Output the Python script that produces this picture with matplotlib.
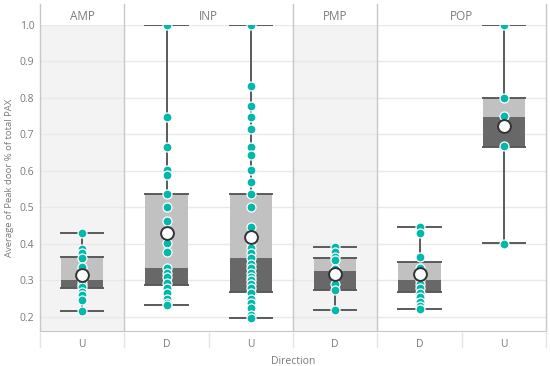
import matplotlib.pyplot as plt
import matplotlib.transforms as mtransforms
import numpy as np

plt.rcParams['font.family'] = ['Open Sans', 'DejaVu Sans']

# one slot per (group, direction)
groups = ['AMP', 'INP', 'PMP', 'POP']
group_slots = [[0], [1, 2], [3], [4, 5]]
directions = ['U', 'D', 'U', 'D', 'D', 'U']

# box statistics
q1 = [0.278, 0.287, 0.269, 0.273, 0.269, 0.666]
median = [0.300, 0.333, 0.360, 0.325, 0.300, 0.749]
q3 = [0.363, 0.536, 0.536, 0.360, 0.351, 0.801]
whisk_lo = [0.215, 0.232, 0.196, 0.218, 0.220, 0.401]
whisk_hi = [0.430, 1.0, 1.0, 0.392, 0.445, 1.0]
means = [0.314, 0.430, 0.419, 0.317, 0.317, 0.723]

# individual points
amp_u = [0.429, 0.385, 0.374, 0.36, 0.337, 0.319, 0.30, 0.29, 0.282, 0.268, 0.26, 0.246, 0.215]
inp_d = [1.0, 0.749, 0.666, 0.602, 0.589, 0.536, 0.502, 0.462, 0.401, 0.377, 0.335, 0.319,
         0.31, 0.292, 0.278, 0.264, 0.25, 0.237, 0.232]
inp_u = [1.0, 0.833, 0.778, 0.749, 0.714, 0.666, 0.643, 0.602, 0.57, 0.536, 0.502, 0.447,
         0.401, 0.388, 0.374, 0.36, 0.346, 0.333, 0.319, 0.31, 0.30, 0.29, 0.28, 0.264,
         0.25, 0.237, 0.223, 0.205, 0.196]
pmp_d = [0.392, 0.378, 0.365, 0.355, 0.33, 0.29, 0.273, 0.218]
pop_d = [0.445, 0.43, 0.365, 0.335, 0.32, 0.31, 0.30, 0.29, 0.28, 0.265, 0.255, 0.24, 0.23, 0.22]
pop_u = [1.0, 0.80, 0.75, 0.667, 0.40]
points = [amp_u, inp_d, inp_u, pmp_d, pop_d, pop_u]

teal = '#01B8AA'
light = '#C1C1C1'
dark = '#686868'
line_col = '#5A5A5A'
sep_col = '#C8C8C8'
txt_col = '#7A7A7A'

fig = plt.figure(figsize=(5.5, 3.66), dpi=100)
ax = fig.add_axes([40 / 550, 1 - 331 / 366, 506 / 550, 306 / 366])
ax.set_xlim(-0.5, 5.5)
ax.set_ylim(0.161, 1.0)

# shaded panels for AMP and PMP
for g, slots in enumerate(group_slots):
    if g % 2 == 0:
        ax.axvspan(slots[0] - 0.5, slots[-1] + 0.5, color='#F3F3F3', zorder=0)

for v in np.arange(0.2, 1.01, 0.1):
    ax.axhline(v, color='#E9E9E9', lw=1, zorder=0.5)

trans = mtransforms.blended_transform_factory(ax.transData, ax.transAxes)
# group separators extending into header
for b in [-0.5, 0.5, 2.5, 3.5, 5.5]:
    ax.plot([b, b], [0, 1.069], transform=trans, color=sep_col, lw=1, clip_on=False, zorder=1)
# little separators below axis
for b in np.arange(-0.5, 5.6, 1.0):
    ax.plot([b, b], [-0.005, -0.052], transform=trans, color='#E4E4E4', lw=1, clip_on=False)

# header labels
for g, slots in enumerate(group_slots):
    xc = (slots[0] + slots[-1]) / 2
    ax.text(xc, 1.027, groups[g], transform=trans, ha='center', va='center',
            fontsize=8.5, color=txt_col)

bw = 0.5
for i in range(len(directions)):
    ax.plot([i, i], [whisk_lo[i], whisk_hi[i]], color=line_col, lw=1.4, zorder=2)
    ax.plot([i - bw / 2, i + bw / 2], [whisk_lo[i]] * 2, color=line_col, lw=1.4, zorder=2)
    ax.plot([i - bw / 2, i + bw / 2], [whisk_hi[i]] * 2, color=line_col, lw=1.4, zorder=2)
    ax.bar(i, median[i] - q1[i], bottom=q1[i], width=bw, color=dark, zorder=3)
    ax.bar(i, q3[i] - median[i], bottom=median[i], width=bw, color=light, zorder=3)
    ax.plot([i - bw / 2, i + bw / 2], [q1[i]] * 2, color=line_col, lw=1.4, zorder=3.5)
    ax.plot([i - bw / 2, i + bw / 2], [q3[i]] * 2, color=line_col, lw=1.4, zorder=3.5)
    ax.scatter([i] * len(points[i]), points[i], s=42, color=teal, edgecolor='white',
               linewidth=0.9, zorder=4)
    ax.scatter([i], [means[i]], s=85, color='white', edgecolor='#333333', linewidth=1.4, zorder=5)

for side in ['top', 'left', 'right']:
    ax.spines[side].set_visible(False)
ax.spines['bottom'].set_color(sep_col)

ax.set_yticks(np.arange(0.2, 1.01, 0.1))
ax.set_yticklabels(['%.1f' % v for v in np.arange(0.2, 1.01, 0.1)])
ax.set_xticks(range(len(directions)))
ax.set_xticklabels(directions)
ax.tick_params(axis='both', length=0, colors=txt_col, labelsize=7.5)
ax.tick_params(axis='x', pad=6)
ax.tick_params(axis='y', pad=4)
ax.set_xlabel('Direction', fontsize=7.5, color=txt_col, labelpad=4)
ax.set_ylabel('Average of Peak door % of total PAX', fontsize=6.8, color=txt_col, labelpad=4)

fig.savefig('out.png', dpi=100)
